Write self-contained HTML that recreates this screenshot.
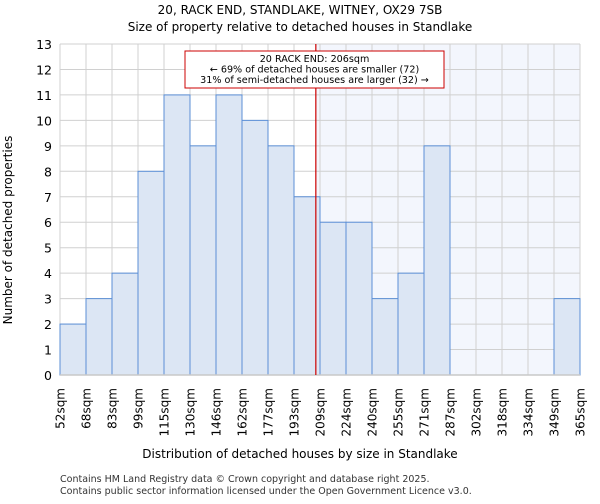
<!DOCTYPE html>
<html><head><meta charset="utf-8"><style>
body{margin:0;background:#fff;font-family:"DejaVu Sans","Liberation Sans",sans-serif;}
</style></head><body>
<svg id="c" width="600" height="500" xmlns="http://www.w3.org/2000/svg" font-family="DejaVu Sans, Liberation Sans, sans-serif">
<text x="300" y="14" text-anchor="middle" font-size="12">20, RACK END, STANDLAKE, WITNEY, OX29 7SB</text>
<text x="300" y="31" text-anchor="middle" font-size="12">Size of property relative to detached houses in Standlake</text>
<g id="plot"></g>
<text x="300" y="458" text-anchor="middle" font-size="12">Distribution of detached houses by size in Standlake</text>
<text transform="translate(12,230) rotate(-90)" text-anchor="middle" font-size="12">Number of detached properties</text>
<text x="60" y="482" font-size="9.5" fill="#333">Contains HM Land Registry data © Crown copyright and database right 2025.</text>
<text x="60" y="494" font-size="9.5" fill="#333">Contains public sector information licensed under the Open Government Licence v3.0.</text>
</svg>
<script>
const categories=["52sqm","68sqm","83sqm","99sqm","115sqm","130sqm","146sqm","162sqm","177sqm","193sqm","209sqm","224sqm","240sqm","255sqm","271sqm","287sqm","302sqm","318sqm","334sqm","349sqm","365sqm"];
const counts=[2,3,4,8,11,9,11,10,9,7,6,6,3,4,9,0,0,0,0,3];
const yTicks=[0,1,2,3,4,5,6,7,8,9,10,11,12,13];
const binStart=52.5, binWidth=15.6;
const propertySize=206;
const X0=60,X1=580,Y0=375,Y1=44,yMax=13;
const ns="http://www.w3.org/2000/svg";
const g=document.getElementById('plot');
const n=counts.length;
const xb=i=>X0+(X1-X0)*i/n;
const xv=v=>X0+(X1-X0)*(v-binStart)/(binWidth*n);
const y=v=>Y0-(Y0-Y1)*v/yMax;
function mk(t,a){const e=document.createElementNS(ns,t);for(const k in a)e.setAttribute(k,a[k]);g.appendChild(e);return e;}
const lx=xv(propertySize);
let e=mk('rect',{x:lx,y:Y1,width:X1-lx,height:Y0-Y1,fill:'#f3f6fd'});


yTicks.forEach(t=>{
 let l=mk('line',{x1:X0,x2:X1,y1:y(t),y2:y(t),stroke:'#d0d0d0','stroke-width':1});
 
 
 let tx=mk('text',{x:X0-8,y:y(t)+5,'text-anchor':'end','font-size':12.5});
 tx.textContent=t;
 
 
});
for(let i=0;i<=n;i++){
 let l=mk('line',{x1:xb(i),x2:xb(i),y1:Y1,y2:Y0,stroke:'#d0d0d0','stroke-width':1});
 
 
}
counts.forEach((c,i)=>{
 if(c<=0)return;
 let r=mk('rect',{x:xb(i),y:y(c),width:xb(i+1)-xb(i),height:Y0-y(c),fill:'#dce6f4',stroke:'#5b8fd6','stroke-width':1});
 
 
});
categories.forEach((c,i)=>{
 let tx=mk('text',{transform:`translate(${xb(i)+4.5},388) rotate(-90)`,'text-anchor':'end','font-size':12});
 tx.textContent=c;
 
 
});
let ax=mk('line',{x1:X0,x2:X1,y1:Y0,y2:Y0,stroke:'#c8c8c8','stroke-width':1.5});


let rl=mk('line',{x1:lx,x2:lx,y1:Y1,y2:Y0,stroke:'#cc0000','stroke-width':1.2});


let box=mk('rect',{x:185,y:51,width:259,height:37,fill:'#fff',stroke:'#cc0000','stroke-width':1});


["20 RACK END: 206sqm","← 69% of detached houses are smaller (72)","31% of semi-detached houses are larger (32) →"].forEach((s,i)=>{
 let tx=mk('text',{x:314.5,y:62+i*10.5,'text-anchor':'middle','font-size':9.6});
 tx.textContent=s;
 
 
});
</script>
</body></html>
